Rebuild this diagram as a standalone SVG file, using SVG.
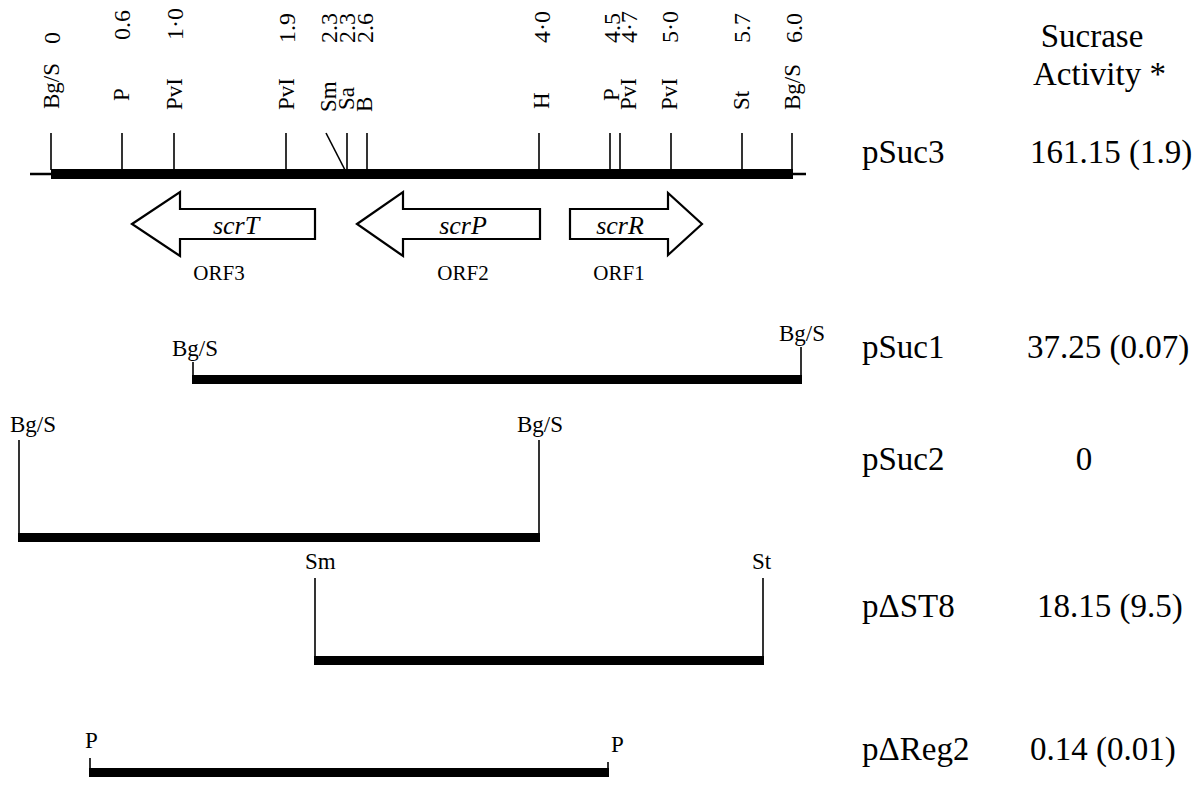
<svg xmlns="http://www.w3.org/2000/svg" width="1198" height="806" viewBox="0 0 1198 806">
<style>
text{font-family:"Liberation Serif","Times New Roman",serif;fill:#000}
.num{font-size:24px}
.lab{font-size:23px}
.site{font-size:23px}
.big{font-size:33px}
.gene{font-size:26px;font-style:italic}
.orf{font-size:21px}
.tick{stroke:#000;stroke-width:1.6;fill:none}
.bar{fill:#000}
.arrow{fill:#fff;stroke:#000;stroke-width:2.2}
</style>
<rect width="1198" height="806" fill="#fff"/>

<g id="map-pSuc3">
  <line x1="30" y1="174" x2="806" y2="174" stroke="#000" stroke-width="2.5"/>
  <rect class="bar" x="51" y="169" width="742" height="10"/>
  <g id="ticks">
    <line class="tick" x1="51" y1="133" x2="51" y2="170"/>
    <line class="tick" x1="122" y1="133" x2="122" y2="170"/>
    <line class="tick" x1="174" y1="133" x2="174" y2="170"/>
    <line class="tick" x1="286" y1="133" x2="286" y2="170"/>
    <line class="tick" x1="326" y1="133" x2="345" y2="170"/>
    <line class="tick" x1="347" y1="133" x2="347" y2="170"/>
    <line class="tick" x1="367" y1="133" x2="367" y2="170"/>
    <line class="tick" x1="539" y1="133" x2="539" y2="170"/>
    <line class="tick" x1="610" y1="133" x2="610" y2="170"/>
    <line class="tick" x1="620" y1="133" x2="620" y2="170"/>
    <line class="tick" x1="671" y1="133" x2="671" y2="170"/>
    <line class="tick" x1="742" y1="133" x2="742" y2="170"/>
    <line class="tick" x1="792" y1="133" x2="792" y2="170"/>
  </g>
  <g id="positions" class="num">
    <text transform="translate(60,44) rotate(-90)">0</text>
    <text transform="translate(130,40) rotate(-90)">0.6</text>
    <text transform="translate(183,40) rotate(-90)">1·0</text>
    <text transform="translate(295,43) rotate(-90)">1.9</text>
    <text transform="translate(337,43) rotate(-90)">2.3</text>
    <text transform="translate(355,43) rotate(-90)">2.3</text>
    <text transform="translate(373,43) rotate(-90)">2.6</text>
    <text transform="translate(550,43) rotate(-90)">4·0</text>
    <text transform="translate(620,43) rotate(-90)">4.5</text>
    <text transform="translate(637,43) rotate(-90)">4·7</text>
    <text transform="translate(678,43) rotate(-90)">5·0</text>
    <text transform="translate(750,43) rotate(-90)">5.7</text>
    <text transform="translate(802,43) rotate(-90)">6.0</text>
  </g>
  <g id="sites" class="lab">
    <text transform="translate(59,109) rotate(-90)">Bg/S</text>
    <text transform="translate(129,101) rotate(-90)">P</text>
    <text transform="translate(182,110) rotate(-90)">PvI</text>
    <text transform="translate(294,110) rotate(-90)">PvI</text>
    <text transform="translate(336,112) rotate(-90)">Sm</text>
    <text transform="translate(354,110) rotate(-90)">Sa</text>
    <text transform="translate(372,112) rotate(-90)">B</text>
    <text transform="translate(549,109) rotate(-90)">H</text>
    <text transform="translate(619,101) rotate(-90)">P</text>
    <text transform="translate(636,110) rotate(-90)">PvI</text>
    <text transform="translate(677,110) rotate(-90)">PvI</text>
    <text transform="translate(749,110) rotate(-90)">St</text>
    <text transform="translate(800,110) rotate(-90)">Bg/S</text>
  </g>
</g>

<g id="orf3">
  <polygon class="arrow" points="132,224 180,192 180,209 315,209 315,239 180,239 180,256"/>
  <text class="gene" x="236" y="234" text-anchor="middle">scrT</text>
  <text class="orf" x="219" y="280" text-anchor="middle">ORF3</text>
</g>
<g id="orf2">
  <polygon class="arrow" points="357,224 403,192 403,209 540,209 540,239 403,239 403,256"/>
  <text class="gene" x="463" y="234" text-anchor="middle">scrP</text>
  <text class="orf" x="463" y="280" text-anchor="middle">ORF2</text>
</g>
<g id="orf1">
  <polygon class="arrow" points="570,209 668,209 668,193 702,224 668,255 668,239 570,239"/>
  <text class="gene" x="620" y="234" text-anchor="middle">scrR</text>
  <text class="orf" x="619" y="280" text-anchor="middle">ORF1</text>
</g>

<g id="pSuc1">
  <text class="site" x="172" y="356">Bg/S</text>
  <text class="site" x="779" y="341">Bg/S</text>
  <line class="tick" x1="193" y1="362" x2="193" y2="378"/>
  <line class="tick" x1="801" y1="347" x2="801" y2="378"/>
  <rect class="bar" x="192" y="375" width="610" height="9"/>
</g>

<g id="pSuc2">
  <text class="site" x="10" y="432">Bg/S</text>
  <text class="site" x="517" y="432">Bg/S</text>
  <line class="tick" x1="19" y1="440" x2="19" y2="536"/>
  <line class="tick" x1="539" y1="440" x2="539" y2="536"/>
  <rect class="bar" x="18" y="533" width="522" height="9"/>
</g>

<g id="pDST8">
  <text class="site" x="305" y="569">Sm</text>
  <text class="site" x="752" y="569">St</text>
  <line class="tick" x1="315" y1="578" x2="315" y2="659"/>
  <line class="tick" x1="763" y1="578" x2="763" y2="659"/>
  <rect class="bar" x="314" y="656" width="450" height="9"/>
</g>

<g id="pDReg2">
  <text class="site" x="85" y="748">P</text>
  <text class="site" x="611" y="752">P</text>
  <line class="tick" x1="90" y1="758" x2="90" y2="771"/>
  <line class="tick" x1="608" y1="762" x2="608" y2="771"/>
  <rect class="bar" x="89" y="768" width="520" height="9"/>
</g>

<g id="activity" class="big">
  <text x="1092" y="47" text-anchor="middle">Sucrase</text>
  <text x="1033" y="85">Activity *</text>
  <text x="862" y="163">pSuc3</text>
  <text x="1030" y="163">161.15 (1.9)</text>
  <text x="862" y="358">pSuc1</text>
  <text x="1027" y="358">37.25 (0.07)</text>
  <text x="862" y="470">pSuc2</text>
  <text x="1084" y="470" text-anchor="middle">0</text>
  <text x="862" y="617">pΔST8</text>
  <text x="1037" y="617">18.15 (9.5)</text>
  <text x="862" y="760">pΔReg2</text>
  <text x="1030" y="760">0.14 (0.01)</text>
</g>
</svg>
